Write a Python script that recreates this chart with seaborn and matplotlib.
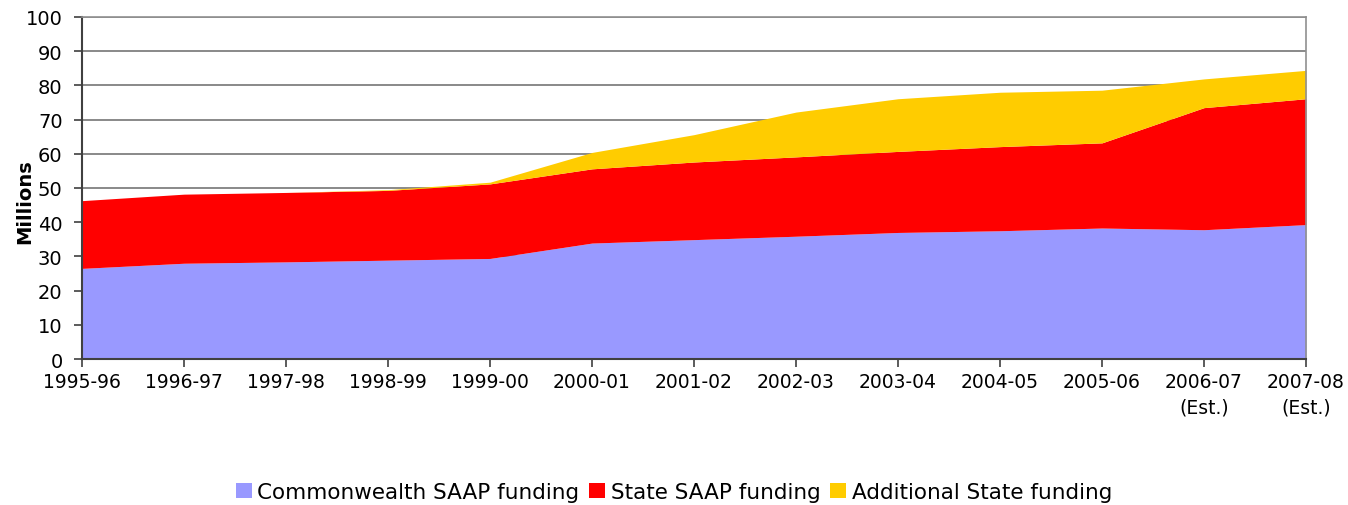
import pandas as pd
import seaborn as sb
from matplotlib import pyplot as plt

years = ['1995-96', '1996-97', '1997-98', '1998-99', '1999-00', '2000-01',
         '2001-02', '2002-03', '2003-04', '2004-05', '2005-06',
         '2006-07\n(Est.)', '2007-08\n(Est.)']
commonwealth = [26.5, 28.0, 28.4, 28.9, 29.4, 33.9, 34.9, 35.9, 37.0, 37.5,
                38.3, 37.8, 39.3]
state = [19.8, 20.2, 20.3, 20.4, 21.8, 21.7, 22.7, 23.2, 23.7, 24.6,
         24.9, 35.7, 36.8]
additional = [0.0, 0.0, 0.0, 0.2, 0.5, 4.8, 8.0, 13.1, 15.4, 15.9,
              15.4, 8.4, 8.3]
names = ['Commonwealth SAAP funding', 'State SAAP funding',
         'Additional State funding']
colors = ['#9999FF', '#FF0000', '#FFCC00']

df = pd.DataFrame({names[0]: commonwealth, names[1]: state,
                   names[2]: additional}, index=years)

sb.set_style('white')
plt.rcParams['font.family'] = ['DejaVu Sans']
plt.rcParams['text.color'] = 'black'
plt.rcParams['axes.labelcolor'] = 'black'
plt.rcParams['xtick.color'] = 'black'
plt.rcParams['ytick.color'] = 'black'

fig, ax = plt.subplots(figsize=(13.48, 5.06), dpi=100)
plt.subplots_adjust(left=82 / 1348, right=1306 / 1348,
                    top=1 - 18 / 506, bottom=1 - 360 / 506)

x = range(len(df))
polys = ax.stackplot(x, df[names[0]], df[names[1]], df[names[2]],
                     colors=colors, labels=names, linewidth=0)

ax.set_xlim(0, len(df) - 1)
ax.set_ylim(0, 100)
ax.set_yticks(range(0, 101, 10))
ax.set_xticks(list(x))
ax.set_xticklabels(years, fontsize=13.5, linespacing=1.45)
ax.tick_params(axis='y', labelsize=14, length=6, width=1.2,
               color='#404040', pad=8, direction='out', left=True)
ax.tick_params(axis='x', length=6, width=1.2, color='#404040', pad=3,
               direction='out', bottom=True)
ax.yaxis.grid(True, color='#808080', linewidth=1.3)
ax.set_axisbelow(True)
for side in ['top', 'right']:
    ax.spines[side].set_color('#909090')
    ax.spines[side].set_linewidth(1.2)
for side in ['left', 'bottom']:
    ax.spines[side].set_color('#404040')
    ax.spines[side].set_linewidth(1.5)
ax.set_ylabel('Millions', fontsize=14, fontweight='bold')
ax.yaxis.set_label_coords(-0.039, 0.462)

fig.legend(handles=polys, labels=names, loc='center', ncol=3,
           bbox_to_anchor=(0.5, 1 - 493 / 506), frameon=False,
           fontsize=15.5, handlelength=0.75, handleheight=0.75,
           handletextpad=0.25, columnspacing=0.45)

plt.savefig('out.png', dpi=100)
